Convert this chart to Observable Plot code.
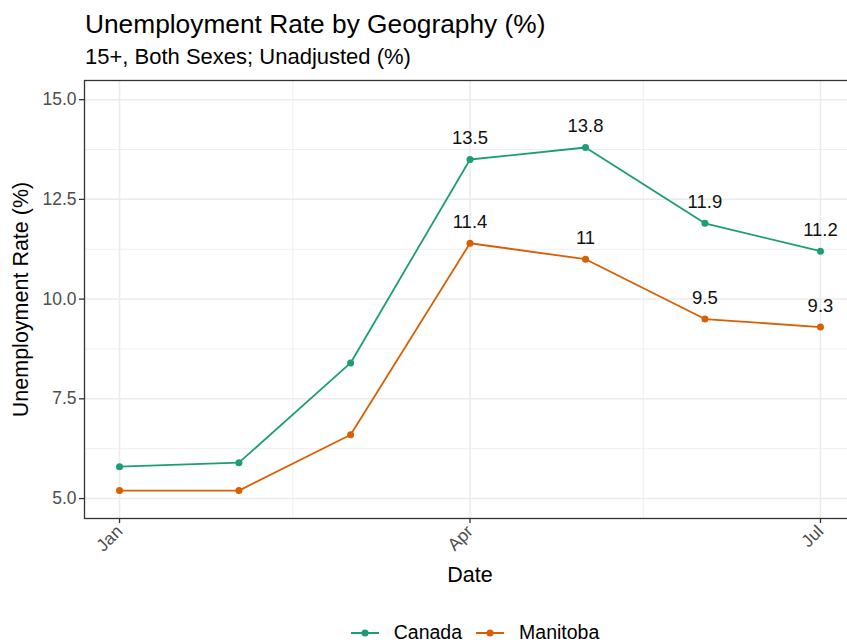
<!DOCTYPE html>
<html>
<head>
<meta charset="utf-8">
<script src="https://cdn.jsdelivr.net/npm/d3@7"></script>
<script src="https://cdn.jsdelivr.net/npm/@observablehq/plot@0.6"></script>
<style>
  html, body { margin: 0; padding: 0; background: #fff; overflow: hidden; }
  #wrap { position: relative; width: 847px; height: 644px; overflow: hidden; font-family: "Liberation Sans", Arial, sans-serif; }
  #title { position: absolute; left: 85px; top: 10.5px; font-size: 26.3px; line-height: 26.3px; color: #000; white-space: nowrap; }
  #subtitle { position: absolute; left: 85px; top: 46px; font-size: 22px; line-height: 22px; color: #000; white-space: nowrap; }
  #chart { position: absolute; left: 0; top: 0; }
  #chart svg { max-width: none !important; }
  #legend { position: absolute; left: 0; width: 950px; top: 623px; display: flex; justify-content: center; align-items: center; font-size: 19.5px; line-height: 19.5px; white-space: nowrap; color: #000; }
  #legend .item { display: inline-flex; align-items: center; margin: 0 7px; }
  #legend svg { margin-right: 15px; }
</style>
</head>
<body>
<div id="wrap">
  <div id="chart"></div>
  <div id="title">Unemployment Rate by Geography (%)</div>
  <div id="subtitle">15+, Both Sexes; Unadjusted (%)</div>
  <div id="legend"></div>
</div>
<script>
const months = ["2020-01-01","2020-02-01","2020-03-01","2020-04-01","2020-05-01","2020-06-01","2020-07-01"];
const canada = [5.8, 5.9, 8.4, 13.5, 13.8, 11.9, 11.2];
const manitoba = [5.2, 5.2, 6.6, 11.4, 11.0, 9.5, 9.3];
const labelled = [false, false, false, true, true, true, true];
const series = ["Canada", "Manitoba"];
const colors = ["#1B9E77", "#D95F02"];
const xTicks = ["2020-01-01","2020-04-01","2020-07-01"];
const xMinor = ["2020-02-15","2020-05-16"];
const yTicks = [5, 7.5, 10, 12.5, 15];
const yMinor = [6.25, 8.75, 11.25, 13.75];

const parse = d3.utcParse("%Y-%m-%d");
const data = [];
series.forEach((s, si) => {
  const vals = si === 0 ? canada : manitoba;
  months.forEach((m, i) => data.push({date: parse(m), value: vals[i], geo: s, lab: labelled[i]}));
});
const labData = data.filter(d => d.lab);

// ggplot-style 5% expansion of the date range
const t0 = parse(months[0]), t1 = parse(months[months.length - 1]);
const pad = (t1 - t0) * 0.05;
const xDomain = [new Date(+t0 - pad), new Date(+t1 + pad)];

const chart = Plot.plot({
  width: 870,
  height: 644,
  marginTop: 80,
  marginBottom: 126,
  marginLeft: 84,
  marginRight: 15,
  style: {fontFamily: "'Liberation Sans', Arial, sans-serif", background: "transparent", maxWidth: "none"},
  x: {type: "utc", domain: xDomain},
  y: {domain: [4.5, 15.48]},
  color: {domain: series, range: colors},
  marks: [
    Plot.gridY(yMinor, {stroke: "#EBEBEB", strokeOpacity: 1, strokeWidth: 0.8}),
    Plot.gridX(xMinor.map(parse), {stroke: "#EBEBEB", strokeOpacity: 1, strokeWidth: 0.8}),
    Plot.gridY(yTicks, {stroke: "#EBEBEB", strokeOpacity: 1, strokeWidth: 1.5}),
    Plot.gridX(xTicks.map(parse), {stroke: "#EBEBEB", strokeOpacity: 1, strokeWidth: 1.5}),
    Plot.frame({stroke: "#333333", strokeWidth: 1.3}),
    Plot.axisY(yTicks, {tickSize: 5, tickPadding: 3, stroke: "#333333", strokeWidth: 1.3, fill: "#4D4D4D", fontSize: 17.5, tickFormat: d3.format(".1f"),
      label: "Unemployment Rate (%)", labelAnchor: "center", labelOffset: 72, labelArrow: "none"}),
    Plot.axisX(xTicks.map(parse), {tickSize: 5, tickPadding: 5, stroke: "#333333", strokeWidth: 1.3, fill: "#4D4D4D", fontSize: 17.5, tickFormat: d3.utcFormat("%b"), tickRotate: -45,
      label: "Date", labelAnchor: "center", labelOffset: 63, labelArrow: "none"}),
    Plot.line(data, {x: "date", y: "value", z: "geo", stroke: "geo", strokeWidth: 1.8}),
    Plot.dot(data, {x: "date", y: "value", fill: "geo", r: 3.5}),
    Plot.text(labData, {x: "date", y: "value", text: d => String(d.value), dy: -21, fontSize: 18.5, fill: "#111"})
  ]
});
d3.select(chart).selectAll("[aria-label='y-axis label'] text, [aria-label='x-axis label'] text, [aria-label='y-axis label'], [aria-label='x-axis label']").attr("font-size", 21.5).attr("fill", "#000");
document.getElementById("chart").appendChild(chart);

const legend = document.getElementById("legend");
series.forEach((s, i) => {
  const item = document.createElement("span");
  item.className = "item";
  item.innerHTML = `<svg width="28" height="12"><line x1="0" x2="28" y1="6" y2="6" stroke="${colors[i]}" stroke-width="2"/><circle cx="14" cy="6" r="3.5" fill="${colors[i]}"/></svg>${s}`;
  legend.appendChild(item);
});
</script>
</body>
</html>
